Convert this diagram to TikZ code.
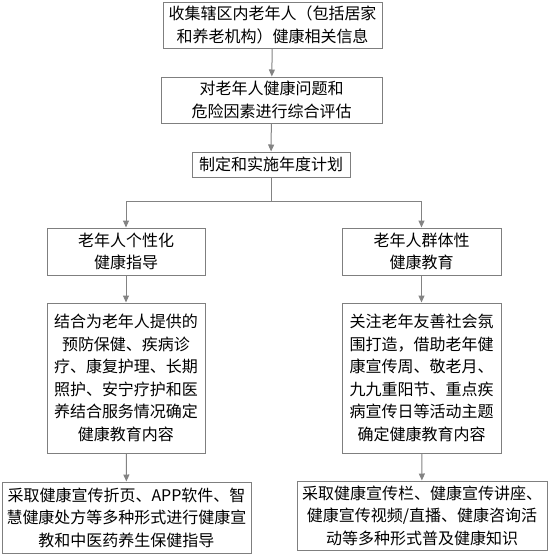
\documentclass[tikz,border=0pt]{standalone}
\usepackage{fontspec}
\newfontfamily\cjk{Noto Sans CJK SC}
\usetikzlibrary{arrows.meta}
\definecolor{boxgray}{HTML}{7F7F7F}
\definecolor{arrowgray}{HTML}{838383}
\begin{document}
\begin{tikzpicture}[x=1pt, y=-1pt, every node/.style={font=\cjk\fontsize{16}{22.5}\selectfont}]
\tikzset{flowbox/.style={draw=boxgray,line width=1pt,fill=white,align=center,inner sep=0pt},
  flowarrow/.style={draw=arrowgray,line width=1pt,-{Triangle[length=7pt,width=6pt]}}}
\useasboundingbox (0,0) rectangle (548,555);
\node[flowbox,minimum width=219pt,minimum height=46pt] (collect) at (272.5,25) {
  收集辖区内老年人（包括居家\\
  和养老机构）健康相关信息
};
\node[flowbox,minimum width=221pt,minimum height=46pt] (assess) at (271.5,100) {
  对老年人健康问题和\\
  危险因素进行综合评估
};
\node[flowbox,minimum width=158pt,minimum height=25pt] (plan) at (271,164.5) {制定和实施年度计划};
% two branches
\node[flowbox,minimum width=158pt,minimum height=47pt] (personal) at (126,251.5) {
  老年人个性化\\
  健康指导
};
\node[flowbox,minimum width=159pt,minimum height=47pt] (group) at (421.5,251.5) {
  老年人群体性\\
  健康教育
};
\node[flowbox,minimum width=158pt,minimum height=150pt] (personalcont) at (126,378) {
  结合为老年人提供的\\
  预防保健、疾病诊\\
  疗、康复护理、长期\\
  照护、安宁疗护和医\\
  养结合服务情况确定\\
  健康教育内容
};
\node[flowbox,minimum width=159pt,minimum height=150pt] (groupcont) at (421.5,378) {
  关注老年友善社会氛\\
  围打造，借助老年健\\
  康宣传周、敬老月、\\
  九九重阳节、重点疾\\
  病宣传日等活动主题\\
  确定健康教育内容
};
\node[flowbox,minimum width=249pt,minimum height=71pt] (personalform) at (126.5,517.5) {
  采取健康宣传折页、APP软件、智\\
  慧健康处方等多种形式进行健康宣\\
  教和中医药养生保健指导
};
\node[flowbox,minimum width=250pt,minimum height=69pt] (groupform) at (422,515.5) {
  采取健康宣传栏、健康宣传讲座、\\
  健康宣传视频/直播、健康咨询活\\
  动等多种形式普及健康知识
};
\coordinate (split) at (271,201);
\draw[flowarrow] (collect) -- (assess);
\draw[flowarrow] (assess) -- (plan);
\draw[draw=arrowgray,line width=1pt] (plan) -- (split);
\draw[flowarrow] (split) -| (personal);
\draw[flowarrow] (split) -| (group);
\draw[flowarrow] (personal) -- (personalcont);
\draw[flowarrow] (group) -- (groupcont);
\draw[flowarrow] (personalcont) -- (personalform);
\draw[flowarrow] (groupcont) -- (groupform);
\end{tikzpicture}
\end{document}
